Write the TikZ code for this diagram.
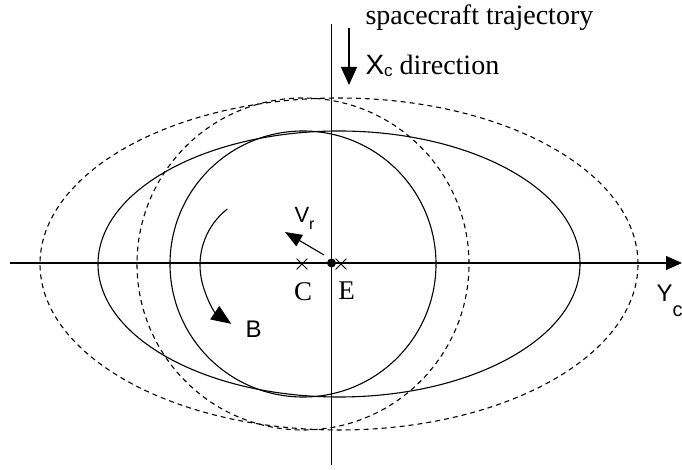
\documentclass[tikz,border=0pt]{standalone}
\usepackage{fontspec}
\setmainfont{Liberation Serif}
\setsansfont{Liberation Sans}
\usetikzlibrary{arrows.meta,shapes.misc}
\begin{document}
\begin{tikzpicture}[x=1pt,y=1pt,line width=1.1pt,
  tri/.style={-{Triangle[length=16pt,width=14pt]}},
  dsh/.style={dash pattern=on 5pt off 4pt},
  serif/.style={font=\fontsize{27}{30}\selectfont,inner sep=0pt},
  sans/.style={font=\sffamily\fontsize{24}{28}\selectfont,inner sep=0pt},
  crs/.style={cross out,draw,line width=0.8pt,minimum size=10pt,inner sep=0pt}]
\useasboundingbox (0,0) rectangle (682,470);
% axes
\coordinate (xl) at (10,207);
\coordinate (xr) at (682,207);
\coordinate (yt) at (331.5,446);
\coordinate (yb) at (331.5,5);
\draw[tri] (xl) -- (xr);
\draw (yt) -- (yb);
% orbits
\coordinate (cc) at (303,206);
\coordinate (ce) at (339,206);
\draw (cc) circle[radius=133pt];
\draw (ce) ellipse[x radius=241pt,y radius=133pt];
\draw[dsh] (cc) circle[radius=166pt];
\draw[dsh] (ce) ellipse[x radius=299pt,y radius=166pt];
% trajectory arrow
\coordinate (ta) at (349,442);
\coordinate (tb) at (349,385);
\draw[-{Triangle[length=18pt,width=16pt]}] (ta) -- (tb);
% centre marks
\node[crs] (cC) at (302,206) {};
\node[crs] (cE) at (341,206) {};
\node[circle,fill,inner sep=0pt,minimum size=9pt] (dot) at (331.5,207) {};
% Vr arrow
\coordinate (va) at (324,215);
\coordinate (vb) at (285,238);
\draw[-{Triangle[length=17pt,width=13pt]}] (va) -- (vb);
% B arc
\coordinate (Bc) at (271,205);
\draw[-{Triangle[length=20pt,width=16pt]}] ([shift={(128:71pt)}]Bc) arc[start angle=128,end angle=236,radius=71pt];
% labels
\node[serif,font=\fontsize{28}{30}\selectfont,anchor=base west] (st) at (365,445) {spacecraft trajectory};
\node[serif,font=\fontsize{28}{30}\selectfont,anchor=base west] (xc) at (365,395) {{\sffamily\fontsize{28}{30}\selectfont X\raisebox{-2pt}{\fontsize{17}{17}\selectfont c}}\ direction};
\node[anchor=base west,inner sep=0pt] (vr) at (294,247) {\sffamily\fontsize{22}{24}\selectfont V\raisebox{-7pt}{\fontsize{16}{16}\selectfont r}};
\node[serif,anchor=base] (lc) at (303,169) {C};
\node[serif,anchor=base] (le) at (346.5,170) {E};
\node[sans,anchor=base west] (lb) at (245,132) {B};
\node[sans,anchor=base west] (yc) at (656,168) {Y\raisebox{-15pt}{\fontsize{20}{20}\selectfont c}};
\end{tikzpicture}
\end{document}
